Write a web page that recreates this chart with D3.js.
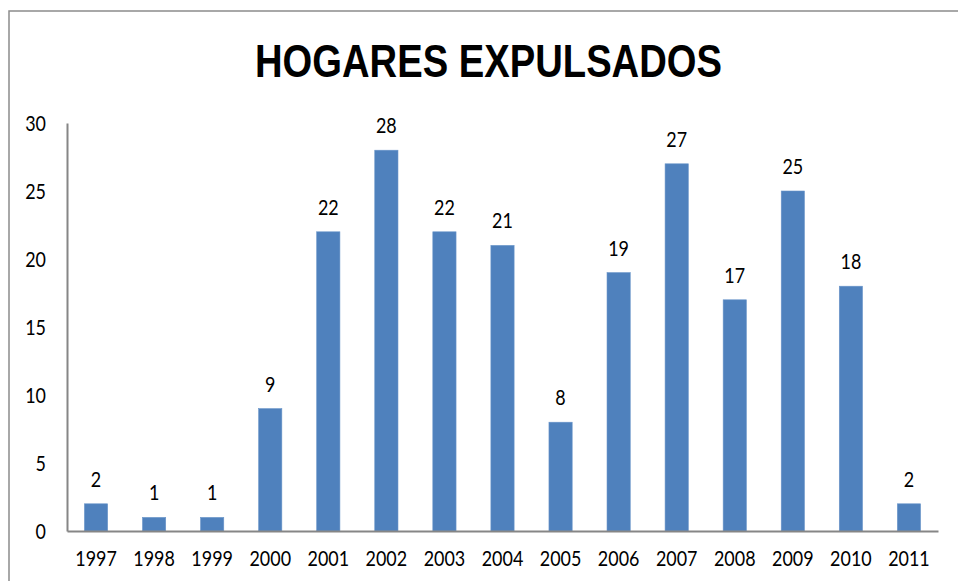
<!DOCTYPE html>
<html>
<head>
<meta charset="utf-8">
<script src="https://cdn.jsdelivr.net/npm/d3@7"></script>
<style>
html, body { margin: 0; padding: 0; background: #fff; }
svg { display: block; }
</style>
</head>
<body>
<svg id="chart" width="958" height="581"></svg>
<script>
const years = ["1997","1998","1999","2000","2001","2002","2003","2004","2005","2006","2007","2008","2009","2010","2011"];
const values = [2,1,1,9,22,28,22,21,8,19,27,17,25,18,2];
const yTicks = [0,5,10,15,20,25,30];
const title = "HOGARES EXPULSADOS";

const svg = d3.select("#chart");
const plot = {left: 67, right: 938, top: 123, bottom: 531};
const FONT = "Lato, sans-serif";
const FS = "22px";
const DIGIT = 10.4;

// outer frame
svg.append("rect")
  .attr("x", 9).attr("y", 11)
  .attr("width", 1000).attr("height", 700)
  .attr("fill", "#fff")
  .attr("stroke", "#8c8c8c").attr("stroke-width", 1.5);

const x = d3.scaleBand().domain(years).range([plot.left, plot.right]).paddingInner(0.6).paddingOuter(0.3);
const y = d3.scaleLinear().domain([0, 30]).range([plot.bottom, plot.top]);

// title
svg.append("text")
  .attr("x", 255).attr("y", 77)
  .attr("textLength", 467)
  .attr("lengthAdjust", "spacingAndGlyphs")
  .style("font-family", "'Liberation Sans', Arial, sans-serif")
  .style("font-weight", "bold")
  .style("font-size", "47px")
  .attr("fill", "#000")
  .text(title);

// bars
svg.append("g").selectAll("rect").data(values).join("rect")
  .attr("x", (d,i) => x(years[i]))
  .attr("y", d => y(d))
  .attr("width", x.bandwidth())
  .attr("height", d => y(0) - y(d))
  .attr("fill", "#4f81bd")
  .attr("stroke", "#6a95c9").attr("stroke-width", 0.6);

// data labels
svg.append("g").selectAll("text").data(values).join("text")
  .attr("x", (d,i) => x(years[i]) + x.bandwidth()/2)
  .attr("y", d => y(d) - 17)
  .attr("text-anchor", "middle")
  .attr("textLength", d => String(d).length * DIGIT)
  .attr("lengthAdjust", "spacingAndGlyphs")
  .style("font-family", FONT)
  .style("font-size", FS)
  .attr("fill", "#000")
  .text(d => d);

// y axis
const yAxis = d3.axisLeft(y).tickValues(yTicks).tickSize(0).tickPadding(21);
const gy = svg.append("g").attr("transform", `translate(${plot.left},0)`).call(yAxis);
gy.select(".domain").attr("stroke", "#868686").attr("stroke-width", 2);
gy.selectAll("text")
  .style("font-family", FONT)
  .style("font-size", FS)
  .attr("fill", "#000")
  .attr("textLength", function() { return this.textContent.length * DIGIT; })
  .attr("lengthAdjust", "spacingAndGlyphs");

// x axis
const xAxis = d3.axisBottom(x).tickSize(0).tickPadding(19);
const gx = svg.append("g").attr("transform", `translate(0,${plot.bottom})`).call(xAxis);
gx.select(".domain").attr("stroke", "#868686").attr("stroke-width", 2);
gx.selectAll("text")
  .style("font-family", FONT)
  .style("font-size", FS)
  .attr("fill", "#000")
  .attr("textLength", function() { return this.textContent.length * DIGIT; })
  .attr("lengthAdjust", "spacingAndGlyphs");
</script>
</body>
</html>
